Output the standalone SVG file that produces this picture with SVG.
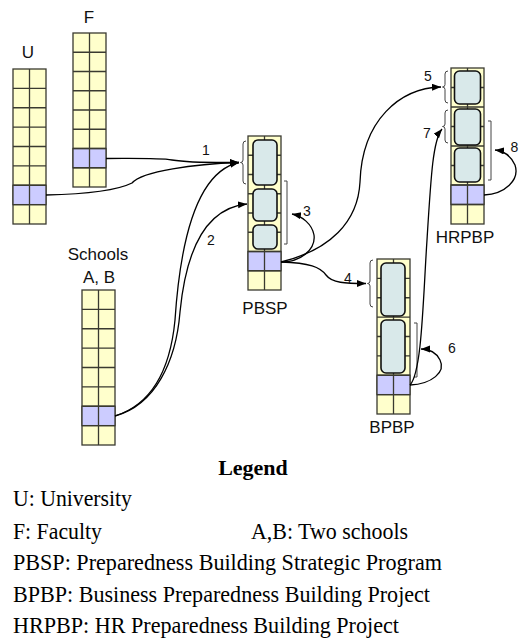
<svg xmlns="http://www.w3.org/2000/svg" width="520" height="638" viewBox="0 0 520 638">
<defs>
<marker id="ah" markerUnits="userSpaceOnUse" markerWidth="10" markerHeight="8" refX="9" refY="3.5" orient="auto">
<path d="M0,0 L9,3.5 L0,7 z" fill="#000"/>
</marker>
<style>
.col{fill:#FFFFCC;stroke:#3a3a30;stroke-width:1.3}
.pur{fill:#CCCCFF;stroke:#3a3a30;stroke-width:1.3}
.div{fill:none;stroke:#3a3a30;stroke-width:1.3}
.box{fill:#D9E9EA;stroke:#111;stroke-width:1.6}
.br{fill:none;stroke:#444;stroke-width:1}
.lab{font-family:"Liberation Sans",Arial,sans-serif;font-size:17px;fill:#111;text-anchor:middle}
.num{font-family:"Liberation Sans",Arial,sans-serif;font-size:14px;fill:#111;text-anchor:middle}
.con{fill:none;stroke:#000;stroke-width:1.3}
.leg{font-family:"Liberation Serif","Times New Roman",serif;font-size:24px;fill:#000}
</style>
</defs>
<rect width="520" height="638" fill="#fff"/>

<g id="U">
<rect class="col" x="13" y="69" width="33" height="155"/>
<rect class="pur" x="13" y="185.25" width="33" height="19.375"/>
<path class="div" d="M29.5,69 V224 M13,88.4 H46 M13,107.75 H46 M13,127.1 H46 M13,146.5 H46 M13,165.9 H46 M13,185.25 H46 M13,204.6 H46"/>
<text class="lab" x="28" y="58">U</text>
</g>

<g id="F">
<rect class="col" x="73" y="33" width="33" height="154"/>
<rect class="pur" x="73" y="148.5" width="33" height="19.25"/>
<path class="div" d="M89.5,33 V187 M73,52.25 H106 M73,71.5 H106 M73,90.75 H106 M73,110 H106 M73,129.25 H106 M73,148.5 H106 M73,167.75 H106"/>
<text class="lab" x="89" y="23">F</text>
</g>

<g id="Schools">
<rect class="col" x="82" y="290" width="33" height="155"/>
<rect class="pur" x="82" y="406.25" width="33" height="19.375"/>
<path class="div" d="M98.5,290 V445 M82,309.4 H115 M82,328.75 H115 M82,348.1 H115 M82,367.5 H115 M82,386.9 H115 M82,406.25 H115 M82,425.6 H115"/>
<text class="lab" x="98" y="260">Schools</text>
<text class="lab" x="99" y="283">A, B</text>
</g>

<g id="PBSP">
<rect class="col" x="248" y="136" width="33" height="154"/>
<rect class="pur" x="248" y="251.5" width="33" height="19.25"/>
<path class="div" d="M264.5,136 V290 M248,155.25 H281 M248,174.5 H281 M248,193.75 H281 M248,213 H281 M248,232.25 H281 M248,251.5 H281 M248,270.75 H281"/>
<rect class="box" x="253" y="140" width="24" height="45" rx="5"/>
<rect class="box" x="253" y="189" width="24" height="32" rx="5"/>
<rect class="box" x="253" y="225" width="24" height="24" rx="5"/>
<path class="br" d="M246,141 Q243,141 243,144 L243,160 Q243,162.5 240.5,162.5 Q243,162.5 243,165 L243,181 Q243,184 246,184"/>
<path class="br" d="M284,181 H287 V244 H284"/>
<text class="lab" x="265" y="314">PBSP</text>
</g>

<g id="HRPBP">
<rect class="col" x="451" y="68" width="33" height="156"/>
<rect class="pur" x="451" y="185" width="33" height="19.5"/>
<path class="div" d="M467.5,68 V224 M451,87.5 H484 M451,107 H484 M451,126.5 H484 M451,146 H484 M451,165.5 H484 M451,185 H484 M451,204.5 H484"/>
<rect class="box" x="454.5" y="71" width="26" height="33" rx="5"/>
<rect class="box" x="454.5" y="109" width="26" height="36" rx="5"/>
<rect class="box" x="454.5" y="148" width="26" height="34" rx="5"/>
<path class="br" d="M448,71 Q445,71 445,74 L445,84.5 Q445,87 442.5,87 Q445,87 445,89.5 L445,100 Q445,103 448,103"/>
<path class="br" d="M448,110 Q445,110 445,113 L445,124 Q445,126.5 442.5,126.5 Q445,126.5 445,129 L445,140 Q445,143 448,143"/>
<path class="br" d="M488,121 H491 V180 H488"/>
<text class="lab" x="465" y="243">HRPBP</text>
</g>

<g id="BPBP">
<rect class="col" x="377" y="259" width="33" height="155"/>
<rect class="pur" x="377" y="375.25" width="33" height="19.375"/>
<path class="div" d="M393.5,259 V414 M377,278.4 H410 M377,297.75 H410 M377,317.1 H410 M377,336.5 H410 M377,355.9 H410 M377,375.25 H410 M377,394.6 H410"/>
<rect class="box" x="381" y="263" width="24" height="53" rx="5"/>
<rect class="box" x="381" y="320" width="24" height="53" rx="5"/>
<path class="br" d="M373,260 Q370,260 370,263 L370,281 Q370,283.5 367.5,283.5 Q370,283.5 370,286 L370,304 Q370,307 373,307"/>
<path class="br" d="M414,323 H417 V377 H414"/>
<text class="lab" x="392" y="433">BPBP</text>
</g>

<g id="connectors">
<path class="con" marker-end="url(#ah)" d="M106,158.5 C140,158.5 160,158 172,160 C190,163 210,162.5 239,162.5"/>
<path class="con" marker-end="url(#ah)" d="M46,195 C90,194 118,190 132,183 C142,171 195,164 239,162.5"/>
<path class="con" marker-end="url(#ah)" d="M115,416 C150,405 170,372 175,320 C180,245 195,172 239,162.5"/>
<path class="con" marker-end="url(#ah)" d="M115,416 C155,405 176,362 180,312 C186,250 205,208 247,204"/>
<path class="con" marker-end="url(#ah)" d="M281,262 C300,262 316,250 314,235 C312,224 302,216 292,214"/>
<path class="con" marker-end="url(#ah)" d="M281,262 C310,263 320,267 326,275 C332,283 345,283.5 366,283.5"/>
<path class="con" marker-end="url(#ah)" d="M281,262 C330,250 358,222 360,182 C362,120 400,88 441,87"/>
<path class="con" marker-end="url(#ah)" d="M410,385 C432,384 446,372 440,360 C436,352 430,349 421,349"/>
<path class="con" marker-end="url(#ah)" d="M410,385 C422,372 423,300 427,240 C431,175 433,140 442,129"/>
<path class="con" marker-end="url(#ah)" d="M484,195 C505,194 520,180 515,165 C511,156 504,151 495,150"/>
<text class="num" x="206" y="155">1</text>
<text class="num" x="211" y="245">2</text>
<text class="num" x="307" y="216">3</text>
<text class="num" x="348" y="283">4</text>
<text class="num" x="428" y="81">5</text>
<text class="num" x="452" y="353">6</text>
<text class="num" x="427" y="138">7</text>
<text class="num" x="514.5" y="152">8</text>
</g>

<g id="legend">
<text x="253" y="475" text-anchor="middle" font-family="'Liberation Serif','Times New Roman',serif" font-size="22" font-weight="bold">Legend</text>
<text class="leg" x="13" y="506" textLength="119" lengthAdjust="spacingAndGlyphs">U: University</text>
<text class="leg" x="13" y="539" textLength="89" lengthAdjust="spacingAndGlyphs">F: Faculty</text>
<text class="leg" x="251" y="539" textLength="157" lengthAdjust="spacingAndGlyphs">A,B: Two schools</text>
<text class="leg" x="13" y="570" textLength="429" lengthAdjust="spacingAndGlyphs">PBSP: Preparedness Building Strategic Program</text>
<text class="leg" x="13" y="602" textLength="417" lengthAdjust="spacingAndGlyphs">BPBP: Business Preparedness Building Project</text>
<text class="leg" x="13" y="633" textLength="386" lengthAdjust="spacingAndGlyphs">HRPBP: HR Preparedness Building Project</text>
</g>
</svg>
